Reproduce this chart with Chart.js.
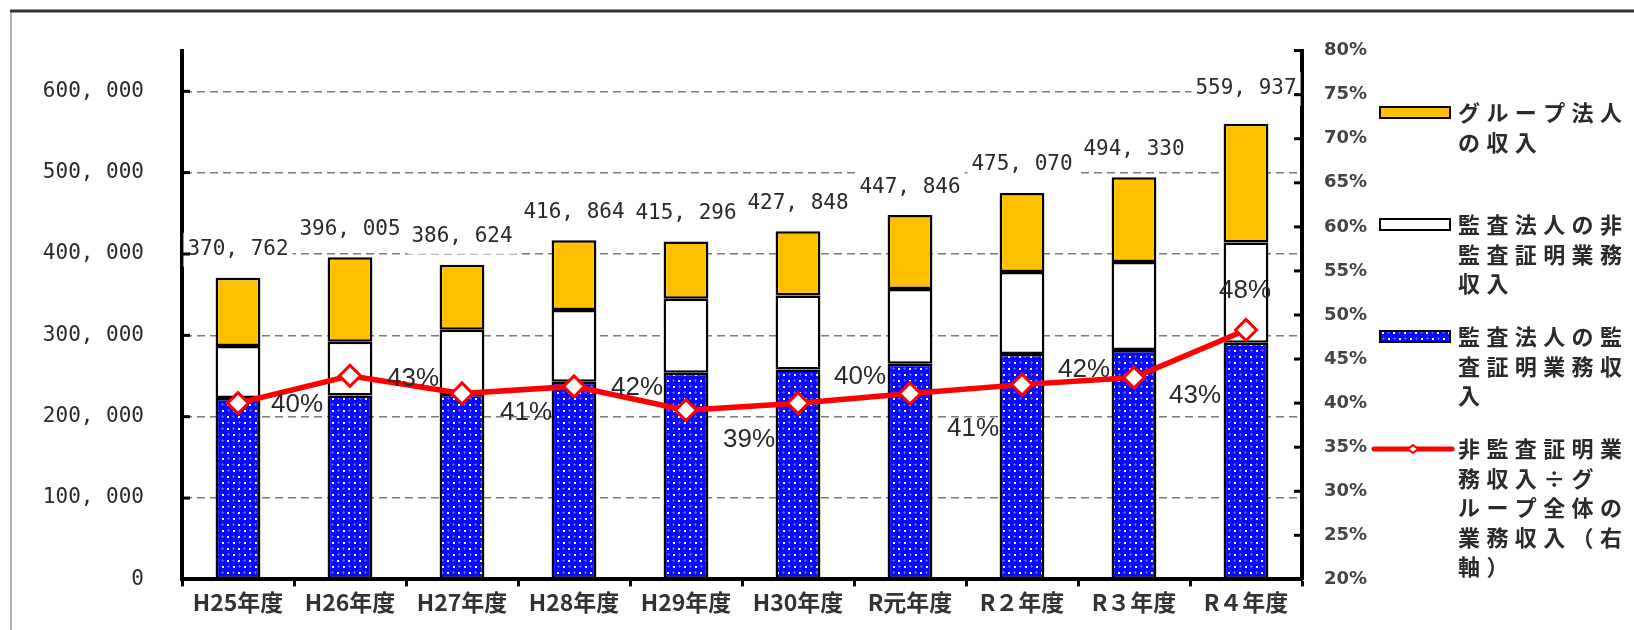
<!DOCTYPE html>
<html>
<head>
<meta charset="utf-8">
<script src="https://cdn.jsdelivr.net/npm/chart.js@4.4.0/dist/chart.umd.min.js"></script>
<style>
html, body { margin: 0; padding: 0; background: #fff; }
#chart { display: block; }
</style>
</head>
<body>
<canvas id="chart" width="1634" height="630"></canvas>
<script>
// 年度
var categories = ['H25年度', 'H26年度', 'H27年度', 'H28年度', 'H29年度', 'H30年度', 'R元年度', 'R２年度', 'R３年度', 'R４年度'];
// 監査法人の監査証明業務収入
var auditIncome = [223000, 226000, 228000, 243000, 254000, 258000, 265000, 277000, 282000, 291000];
// 監査法人の非監査証明業務収入
var nonAuditIncome = [64000, 66000, 79000, 88000, 91000, 91000, 92000, 101000, 108000, 123000];
// グループ法人の収入
var groupIncome = [83762, 104005, 79624, 85864, 70296, 78848, 90846, 97070, 104330, 145937];
// グループ全体 (棒の上のラベル)
var totalIncome = [370762, 396005, 386624, 416864, 415296, 427848, 447846, 475070, 494330, 559937];
// 非監査証明業務収入÷グループ全体の業務収入 (%)
var nonAuditRatio = [40.0, 43.1, 41.1, 41.9, 39.2, 40.0, 41.1, 42.1, 42.9, 48.3];

var leftTicks = [0, 100000, 200000, 300000, 400000, 500000, 600000];
var rightTicks = [20, 25, 30, 35, 40, 45, 50, 55, 60, 65, 70, 75, 80];

var legendTexts = [
  ['グループ法人', 'の収入'],
  ['監査法人の非', '監査証明業務', '収入'],
  ['監査法人の監', '査証明業務収', '入'],
  ['非監査証明業', '務収入÷グ', 'ループ全体の', '業務収入（右', '軸）']
];

var YELLOW = '#ffc000';
var RED = '#ff0000';
var TEXT = '#2a2a2a';

function fmt(v) {
  return v.toLocaleString('en-US').replace(/,/g, ', ');
}

function makeDots() {
  var c = document.createElement('canvas');
  c.width = 11; c.height = 12;
  var g = c.getContext('2d');
  g.fillStyle = '#0a0aff'; g.fillRect(0, 0, 11, 12);
  g.fillStyle = '#5858ff';
  g.fillRect(7, 2, 3, 1); g.fillRect(8, 1, 1, 3);
  g.fillRect(1, 8, 3, 1); g.fillRect(2, 7, 1, 3);
  g.fillStyle = '#ffffff';
  g.fillRect(2, 2, 2, 2);
  g.fillRect(7, 8, 2, 2);
  return g.createPattern(c, 'repeat');
}
var bluePattern = makeDots();

// 白背景と枠
var framePlugin = {
  id: 'frame',
  beforeDraw: function (chart) {
    var ctx = chart.ctx;
    ctx.save();
    ctx.fillStyle = '#fff';
    ctx.fillRect(0, 0, chart.width, chart.height);
    ctx.strokeStyle = '#999'; ctx.lineWidth = 1.5;
    ctx.beginPath(); ctx.moveTo(11, 11); ctx.lineTo(11, chart.height); ctx.stroke();
    ctx.strokeStyle = '#333'; ctx.lineWidth = 3;
    ctx.beginPath(); ctx.moveTo(10, 11); ctx.lineTo(chart.width, 11); ctx.stroke();
    ctx.restore();
  }
};

// 内向きの目盛り
var innerTicks = {
  id: 'innerTicks',
  afterDraw: function (chart) {
    var ctx = chart.ctx, a = chart.chartArea;
    var y = chart.scales.y, y1 = chart.scales.y1;
    ctx.save();
    ctx.strokeStyle = '#000'; ctx.lineWidth = 3;
    leftTicks.forEach(function (v) {
      var p = y.getPixelForValue(v);
      ctx.beginPath(); ctx.moveTo(a.left, p); ctx.lineTo(a.left + 8, p); ctx.stroke();
    });
    rightTicks.forEach(function (v) {
      var p = y1.getPixelForValue(v);
      ctx.beginPath(); ctx.moveTo(a.right - 8, p); ctx.lineTo(a.right, p); ctx.stroke();
    });
    ctx.restore();
  }
};

// 合計ラベルと比率ラベル
var valueLabels = {
  id: 'valueLabels',
  afterDatasetsDraw: function (chart) {
    var ctx = chart.ctx;
    var top = chart.getDatasetMeta(2).data;
    var pts = chart.getDatasetMeta(3).data;
    ctx.save();
    ctx.font = '21px "DejaVu Sans Mono"';
    ctx.textAlign = 'center';
    ctx.textBaseline = 'middle';
    totalIncome.forEach(function (v, i) {
      var bar = top[i];
      var txt = fmt(v);
      var w = ctx.measureText(txt).width;
      var cy = bar.y - (i === totalIncome.length - 1 ? 35 : 28);
      ctx.fillStyle = '#fff';
      ctx.fillRect(bar.x - w / 2 - 4, cy - 17, w + 8, 34);
      ctx.fillStyle = TEXT;
      ctx.fillText(txt, bar.x, cy);
    });
    var off = [[33, 2], [37, 3], [38, 19], [37, 1], [37, 30], [36, -26], [37, 35], [36, -15], [35, 18], [-27, -39]];
    ctx.font = '26px "Liberation Sans"';
    ctx.textAlign = 'left';
    nonAuditRatio.forEach(function (v, i) {
      var p = pts[i];
      ctx.fillStyle = TEXT;
      ctx.fillText(Math.round(v) + '%', p.x + off[i][0], p.y + off[i][1]);
    });
    ctx.restore();
  }
};

// 凡例 (右側)
var sideLegend = {
  id: 'sideLegend',
  afterDraw: function (chart) {
    var ctx = chart.ctx;
    var fills = [YELLOW, '#fff', bluePattern];
    var rows = [113, 225, 337, 449];
    ctx.save();
    ctx.font = 'bold 22px "Noto Sans CJK JP"';
    ctx.textBaseline = 'middle';
    ctx.textAlign = 'left';
    legendTexts.forEach(function (lines, k) {
      var cy = rows[k];
      if (k < 3) {
        ctx.fillStyle = fills[k];
        ctx.fillRect(1380, cy - 6, 70, 11);
        ctx.strokeStyle = '#000'; ctx.lineWidth = 2;
        ctx.strokeRect(1380, cy - 6, 70, 11);
      } else {
        ctx.strokeStyle = RED; ctx.lineWidth = 5; ctx.lineCap = 'round';
        ctx.beginPath(); ctx.moveTo(1374, cy); ctx.lineTo(1452, cy); ctx.stroke();
        ctx.fillStyle = '#fff'; ctx.lineWidth = 2;
        ctx.beginPath();
        ctx.moveTo(1413, cy - 4); ctx.lineTo(1418, cy); ctx.lineTo(1413, cy + 4); ctx.lineTo(1408, cy);
        ctx.closePath(); ctx.fill(); ctx.stroke();
      }
      ctx.fillStyle = TEXT;
      lines.forEach(function (line, j) {
        var chars = Array.from(line);
        chars.forEach(function (ch, n) {
          ctx.fillText(ch, 1458 + n * 28.4, cy + j * 29.5);
        });
      });
    });
    ctx.restore();
  }
};

var barCommon = {
  type: 'bar',
  yAxisID: 'y',
  stack: 'income',
  borderColor: '#000',
  borderWidth: 2.5,
  borderSkipped: false,
  barPercentage: 0.4,
  categoryPercentage: 1.0,
  order: 2
};

new Chart(document.getElementById('chart'), {
  data: {
    labels: categories,
    datasets: [
      Object.assign({}, barCommon, { label: '監査法人の監査証明業務収入', data: auditIncome, backgroundColor: bluePattern }),
      Object.assign({}, barCommon, { label: '監査法人の非監査証明業務収入', data: nonAuditIncome, backgroundColor: '#ffffff' }),
      Object.assign({}, barCommon, { label: 'グループ法人の収入', data: groupIncome, backgroundColor: YELLOW }),
      {
        type: 'line',
        label: '非監査証明業務収入÷グループ全体の業務収入（右軸）',
        data: nonAuditRatio,
        yAxisID: 'y1',
        borderColor: RED,
        borderWidth: 5.5,
        tension: 0,
        pointStyle: 'rectRot',
        pointRadius: 10.5,
        pointBackgroundColor: '#fff',
        pointBorderColor: RED,
        pointBorderWidth: 3,
        order: 0
      }
    ]
  },
  options: {
    responsive: false,
    animation: false,
    devicePixelRatio: 1,
    layout: { padding: { top: 44, left: 0, right: 0, bottom: 0 } },
    plugins: {
      legend: { display: false },
      tooltip: { enabled: false }
    },
    scales: {
      x: {
        stacked: true,
        offset: true,
        grid: { display: true, drawOnChartArea: false, drawTicks: true, tickLength: 7, tickColor: '#000', tickWidth: 3, offset: true },
        border: { display: true, color: '#000', width: 4 },
        ticks: { color: '#333', font: { family: '"Noto Sans CJK JP"', size: 23, weight: 'bold' }, padding: 2, maxRotation: 0, autoSkip: false },
        afterFit: function (s) { s.height = 38; }
      },
      y: {
        position: 'left',
        stacked: true,
        min: 0,
        max: 650000,
        afterBuildTicks: function (s) {
          s.ticks = leftTicks.map(function (v) { return { value: v }; });
        },
        grid: {
          drawTicks: false,
          color: function (c) { return c.tick && c.tick.value === 0 ? 'rgba(0,0,0,0)' : '#7a7a7a'; },
          lineWidth: 1.5
        },
        border: { display: true, color: '#000', width: 4, dash: [8, 5] },
        ticks: {
          padding: 38,
          color: TEXT,
          font: { family: '"DejaVu Sans Mono"', size: 21 },
          callback: function (v) { return fmt(v); }
        },
        afterFit: function (s) { s.width = 182; }
      },
      y1: {
        position: 'right',
        min: 20,
        max: 80,
        afterBuildTicks: function (s) {
          s.ticks = rightTicks.map(function (v) { return { value: v }; });
        },
        grid: { drawOnChartArea: false, drawTicks: false },
        border: { display: true, color: '#000', width: 4 },
        ticks: {
          padding: 22,
          color: '#444',
          font: { family: '"DejaVu Sans"', size: 18, weight: 'bold' },
          callback: function (v) { return v + '%'; }
        },
        afterFit: function (s) { s.width = 332; }
      }
    }
  },
  plugins: [framePlugin, valueLabels, innerTicks, sideLegend]
});
</script>
</body>
</html>
